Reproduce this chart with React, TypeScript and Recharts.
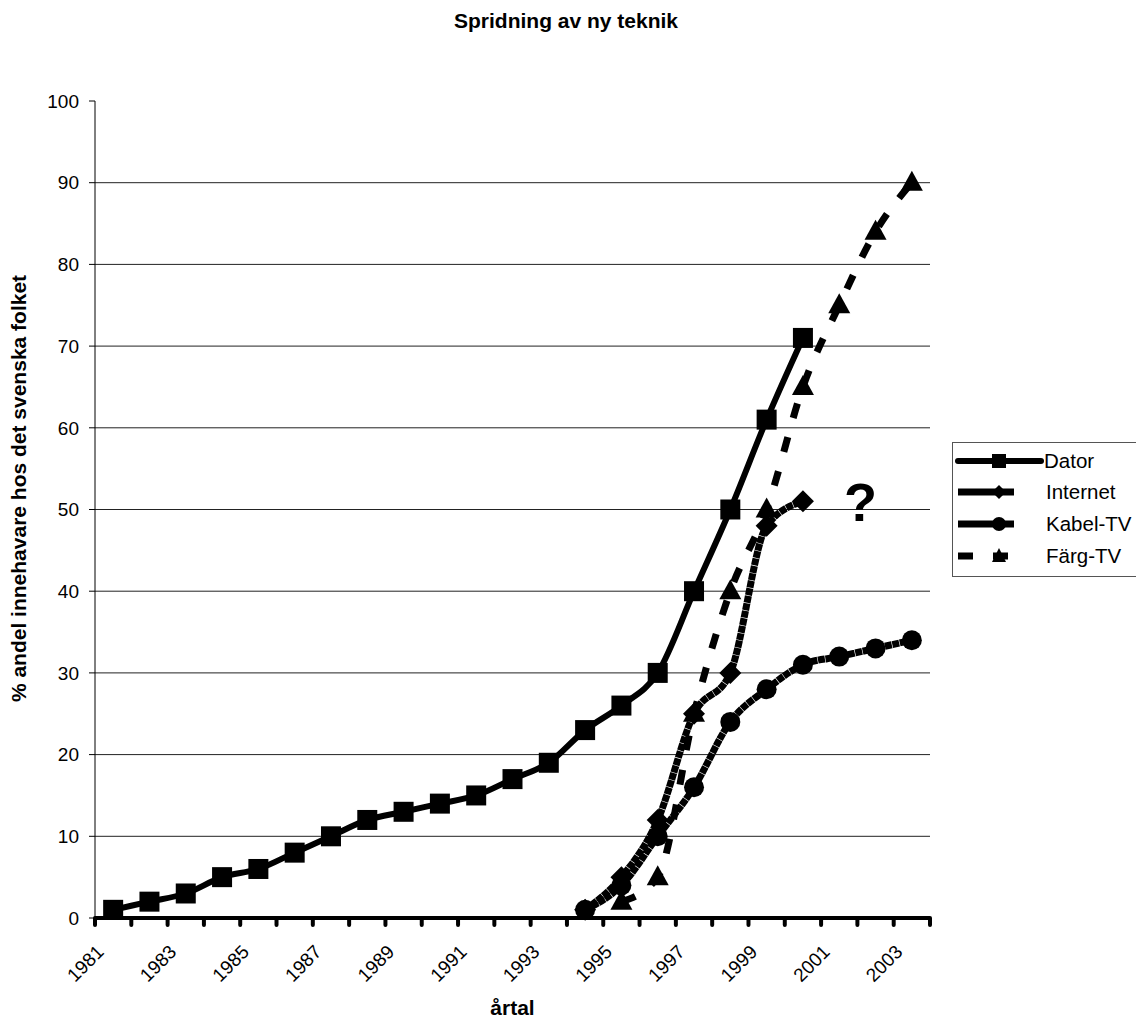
import React from 'react';
import { LineChart, Line, XAxis, YAxis, CartesianGrid, Legend, ReferenceDot } from 'recharts';

const years = [1981, 1982, 1983, 1984, 1985, 1986, 1987, 1988, 1989, 1990, 1991, 1992, 1993, 1994, 1995, 1996, 1997, 1998, 1999, 2000, 2001, 2002, 2003];
const dator = [1, 2, 3, 5, 6, 8, 10, 12, 13, 14, 15, 17, 19, 23, 26, 30, 40, 50, 61, 71, null, null, null];
const internet = [null, null, null, null, null, null, null, null, null, null, null, null, null, 1, 5, 12, 25, 30, 48, 51, null, null, null];
const kabelTv = [null, null, null, null, null, null, null, null, null, null, null, null, null, 1, 4, 10, 16, 24, 28, 31, 32, 33, 34];
const fargTv = [null, null, null, null, null, null, null, null, null, null, null, null, null, null, 2, 5, 25, 40, 50, 65, 75, 84, 90];
const labelYears = [1981, 1983, 1985, 1987, 1989, 1991, 1993, 1995, 1997, 1999, 2001, 2003];
const yTicks = [0, 10, 20, 30, 40, 50, 60, 70, 80, 90, 100];
const gridValues = [10, 20, 30, 40, 50, 60, 70, 80, 90];

const TITLE = 'Spridning av ny teknik';
const Y_TITLE = '% andel innehavare hos det svenska folket';
const X_TITLE = 'årtal';

const data = years.map((year, i) => ({
  year,
  dator: dator[i],
  internet: internet[i],
  kabel: kabelTv[i],
  farg: fargTv[i],
}));

const xBoundaries = years.map((y) => y - 0.5).concat([years[years.length - 1] + 0.5]);

const FONT = '"Liberation Sans", Arial, sans-serif';

const SquareDot = (props: any) => {
  const { cx, cy, value, index } = props;
  if (cx == null || cy == null || value == null) return <g key={`s${index}`} />;
  return <rect key={`s${index}`} x={cx - 10} y={cy - 10} width={20} height={20} fill="#000" />;
};
const DiamondDot = (props: any) => {
  const { cx, cy, value, index } = props;
  if (cx == null || cy == null || value == null) return <g key={`d${index}`} />;
  return <polygon key={`d${index}`} points={`${cx},${cy - 11} ${cx + 11},${cy} ${cx},${cy + 11} ${cx - 11},${cy}`} fill="#000" />;
};
const CircleDot = (props: any) => {
  const { cx, cy, value, index } = props;
  if (cx == null || cy == null || value == null) return <g key={`c${index}`} />;
  return <circle key={`c${index}`} cx={cx} cy={cy} r={10} fill="#000" />;
};
const TriangleDot = (props: any) => {
  const { cx, cy, value, index } = props;
  if (cx == null || cy == null || value == null) return <g key={`t${index}`} />;
  return <polygon key={`t${index}`} points={`${cx},${cy - 12} ${cx + 11},${cy + 8} ${cx - 11},${cy + 8}`} fill="#000" />;
};

const XTick = (props: any) => {
  const { x, y, payload } = props;
  const year = payload.value + 0.5;
  if (!labelYears.includes(year)) return <g />;
  const ax = x + 10;
  const ay = y + 28;
  return (
    <text x={ax} y={ay} transform={`rotate(-45, ${ax}, ${ay})`} textAnchor="end" fontSize={19} fontFamily={FONT} fill="#000">
      {year}
    </text>
  );
};

const YTitle = (props: any) => {
  const vb = props.viewBox || { x: 0, y: 0, width: 0, height: 0 };
  const cx = 18;
  const cy = vb.y + vb.height / 2 - 21;
  return (
    <text x={cx} y={cy} transform={`rotate(-90, ${cx}, ${cy})`} textAnchor="middle" dominantBaseline="central" fontSize={21} fontWeight="bold" fontFamily={FONT} fill="#000">
      {Y_TITLE}
    </text>
  );
};

const XTitle = (props: any) => {
  const vb = props.viewBox || { x: 0, y: 0, width: 0, height: 0 };
  return (
    <text x={vb.x + vb.width / 2} y={1015} textAnchor="middle" fontSize={21} fontWeight="bold" fontFamily={FONT} fill="#000">
      {X_TITLE}
    </text>
  );
};

const legendRows = [
  { name: 'Dator', kind: 'square' },
  { name: 'Internet', kind: 'diamond' },
  { name: 'Kabel-TV', kind: 'circle' },
  { name: 'Färg-TV', kind: 'triangle' },
];

const LegendBox = () => {
  const rowY = [19, 50, 82, 114];
  return (
    <svg width={200} height={136} style={{ display: 'block' }}>
      <rect x={0.5} y={0.5} width={240} height={134} fill="#fff" stroke="#555" strokeWidth={1} />
      {legendRows.map((r, i) => {
        const cy = rowY[i];
        const mx = 47;
        let line: React.ReactNode;
        let marker: React.ReactNode;
        if (r.kind === 'square') {
          line = <line x1={6} y1={cy} x2={89} y2={cy} stroke="#000" strokeWidth={6} strokeLinecap="round" />;
          marker = <rect x={mx - 7} y={cy - 7} width={14} height={14} fill="#000" />;
        } else if (r.kind === 'diamond') {
          line = <line x1={6} y1={cy} x2={62} y2={cy} stroke="#000" strokeWidth={7} />;
          marker = <polygon points={`${mx},${cy - 7} ${mx + 7},${cy} ${mx},${cy + 7} ${mx - 7},${cy}`} fill="#000" />;
        } else if (r.kind === 'circle') {
          line = <line x1={6} y1={cy} x2={62} y2={cy} stroke="#000" strokeWidth={7} />;
          marker = <circle cx={mx} cy={cy} r={7} fill="#000" />;
        } else {
          line = <line x1={6} y1={cy} x2={68} y2={cy} stroke="#000" strokeWidth={7} strokeDasharray="15 20" />;
          marker = <polygon points={`${mx},${cy - 8} ${mx + 7},${cy + 6} ${mx - 7},${cy + 6}`} fill="#000" />;
        }
        return (
          <g key={r.name}>
            {line}
            {marker}
            <text x={r.kind === 'square' ? 92 : 94} y={cy + 7} fontSize={20.5} fontFamily={FONT} fill="#000">
              {r.name}
            </text>
          </g>
        );
      })}
    </svg>
  );
};

export default function App() {
  return (
    <div style={{ position: 'relative', width: 1136, height: 1021, overflow: 'hidden', background: '#fff', fontFamily: FONT }}>
      <style>{'body{margin:0;overflow:hidden;}'}</style>
      <div style={{ position: 'absolute', left: 0, top: 10, width: 1132, textAlign: 'center', fontSize: 21, lineHeight: '21px', fontWeight: 'bold', color: '#000' }}>
        {TITLE}
      </div>
      <LineChart width={1136} height={1021} data={data} margin={{ top: 101, right: 206, bottom: 43, left: 35 }}>
        <CartesianGrid vertical={false} horizontalValues={gridValues} stroke="#222" strokeWidth={1} />
        <XAxis
          dataKey="year"
          type="number"
          domain={[1980.5, 2003.5]}
          ticks={xBoundaries}
          interval={0}
          height={60}
          tick={<XTick />}
          tickSize={7}
          tickMargin={0}
          tickLine={{ stroke: '#000', strokeWidth: 4, strokeLinecap: 'round' }}
          axisLine={{ stroke: '#000', strokeWidth: 4 }}
          label={<XTitle />}
        />
        <YAxis
          type="number"
          domain={[0, 100]}
          ticks={yTicks}
          interval={0}
          width={60}
          tickSize={6}
          tickMargin={10}
          tick={{ fontSize: 19, fontFamily: FONT, fill: '#000' }}
          tickLine={{ stroke: '#000', strokeWidth: 1 }}
          axisLine={{ stroke: '#000', strokeWidth: 1 }}
          label={<YTitle />}
        />
        <Legend
          layout="vertical"
          align="center"
          verticalAlign="middle"
          content={() => <LegendBox />}
          wrapperStyle={{ position: 'absolute', left: 952, top: 442, width: 200, height: 136, margin: 0, padding: 0 }}
        />
        <Line dataKey="dator" name="Dator" type="monotone" stroke="#000" strokeWidth={6} dot={SquareDot} activeDot={false} isAnimationActive={false} />
        <Line dataKey="internet" name="Internet" type="monotone" stroke="#000" strokeWidth={7} strokeDasharray="7 0.6" dot={DiamondDot} activeDot={false} isAnimationActive={false} />
        <Line dataKey="kabel" name="Kabel-TV" type="monotone" stroke="#000" strokeWidth={7} strokeDasharray="7 0.6" dot={CircleDot} activeDot={false} isAnimationActive={false} />
        <Line dataKey="farg" name="Färg-TV" type="monotone" stroke="#000" strokeWidth={7} strokeDasharray="15 20" dot={TriangleDot} activeDot={false} isAnimationActive={false} />
        <ReferenceDot
          x={2001.5}
          y={51}
          r={0}
          fill="none"
          stroke="none"
          ifOverflow="visible"
          label={{ value: '?', position: 'center', dx: 3, fontSize: 54, fontWeight: 'bold', fill: '#000', fontFamily: FONT }}
        />
      </LineChart>
    </div>
  );
}
